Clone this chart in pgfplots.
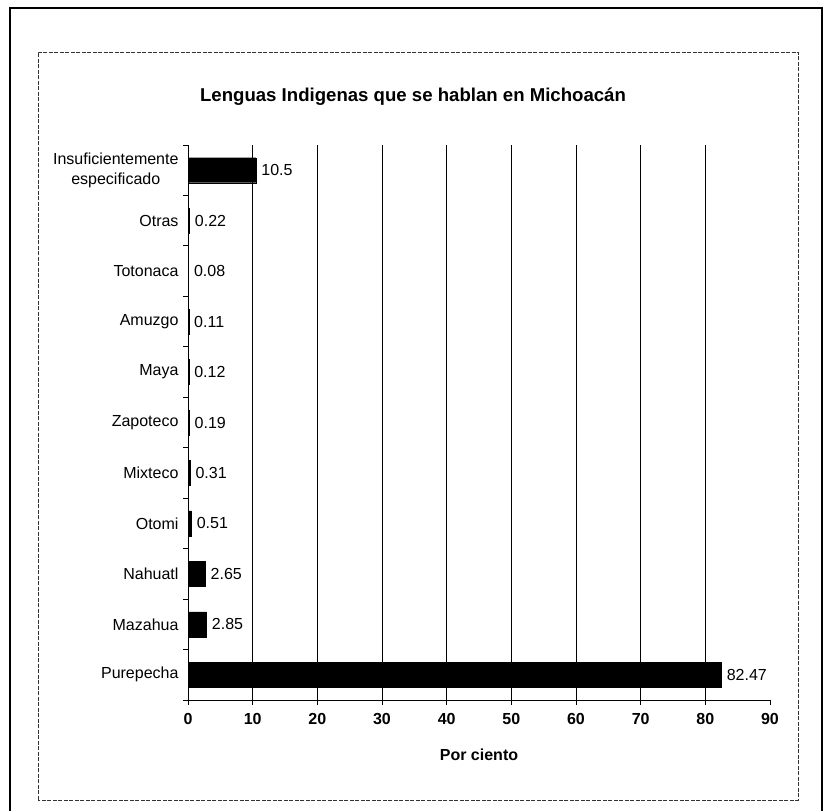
\documentclass[border=0pt]{standalone}
\usepackage{pgfplots}
\pgfplotsset{compat=1.18}
\usepackage{pgfplotstable}
\usepackage{fontspec}
\setmainfont{Liberation Sans}

\pgfplotstableread[col sep=comma]{
idx,value,label
0,82.47,82.47
1,2.85,2.85
2,2.65,2.65
3,0.51,0.51
4,0.31,0.31
5,0.19,0.19
6,0.12,0.12
7,0.11,0.11
8,0.08,0.08
9,0.22,0.22
10,10.5,10.5
}\datatable

\newcommand{\lab}{\fontsize{16bp}{20bp}\selectfont}

\begin{document}
\begin{tikzpicture}
\useasboundingbox (0,0) rectangle (825bp,811bp);
% outer frame
\draw[line width=1.8bp, black] (10bp,0bp) -- (10bp,803bp) -- (822bp,803bp) -- (822bp,0bp);
% inner frame
\draw[line width=0.8bp, black!80, dash pattern=on 4bp off 1.5bp] (38bp,11bp) rectangle (798bp,759bp);
% title
\node[font=\bfseries\fontsize{18.6bp}{21bp}\selectfont] at (413bp,714bp) {Lenguas Indigenas que se hablan en Michoacán};
\begin{axis}[
  at={(188bp,111bp)}, anchor=south west,
  scale only axis, width=582bp, height=555bp,
  xmin=0, xmax=90, ymin=-0.5, ymax=10.5,
  axis x line*=bottom, axis y line*=left,
  axis line style={black, line width=0.9bp},
  xtick={0,10,...,90},
  xticklabel style={font=\bfseries\lab, yshift=-5bp},
  /pgf/number format/assume math mode=true,
  tick align=outside, major tick length=5bp,
  tick style={black, line width=0.9bp},
  extra x ticks={10,20,...,80},
  extra x tick labels={},
  extra x tick style={grid=major, major grid style={black, line width=0.9bp}},
  ytick={-0.5,0.5,...,10.5},
  yticklabels={},
  extra y ticks={0,1,...,10},
  extra y tick labels={Purepecha,Mazahua,Nahuatl,Otomi,Mixteco,Zapoteco,Maya,Amuzgo,Totonaca,Otras,{Insuficientemente\\especificado}},
  extra y tick style={major tick length=0pt, yticklabel style={align=center, font=\lab, xshift=-6bp}},
  xlabel={Por ciento},
  xlabel style={font=\bfseries\lab, at={(axis description cs:0.5,-0.0991)}, anchor=center},
  xbar, bar width=25bp,
  nodes near coords, point meta=explicit symbolic,
  nodes near coords style={font=\lab, black, anchor=west, xshift=2bp},
  clip=false,
]
\addplot[fill=black, draw=black] table[x=value, y=idx, meta=label] {\datatable};
\end{axis}
\end{tikzpicture}
\end{document}
